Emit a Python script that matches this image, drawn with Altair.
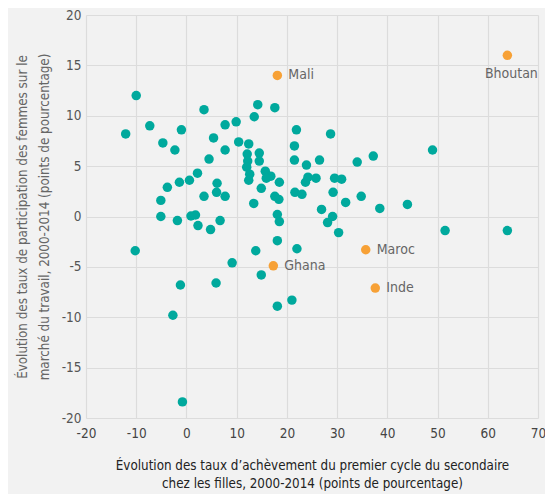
import altair as alt
import pandas as pd

# teal points
xs = [-10.0, -12.1, -7.3, -1.0, -4.7, -2.3, 3.5, 5.4, 7.7, 9.9, 7.7, 4.5, 2.2, 0.6, -1.4, -3.8,
      -5.1, -5.1, -1.8, 0.9, 1.8, 2.3, 4.8, 6.7, 3.5, 6.1, 6.0, 7.7, 12.4, 10.4, 14.2, 13.5,
      17.6, 14.5, 12.1, 12.2, 14.5, 12.0, 12.6, 12.4, 15.7, 16.8, 15.9, 14.9, 13.4, 17.6, 18.4,
      18.5, 18.1, 18.5, 18.1, -10.2, 13.8, 21.9, 28.7, 21.5, 21.5, 23.9, 26.5, 34.0, 37.2, 49.0,
      23.7, 24.2, 25.8, 29.5, 30.9, 21.6, 23.0, 29.2, 34.8, 31.7, 44.0, 38.5, 26.9, 29.1, 28.1,
      30.3, 22.0, 51.5, 63.9, -1.2, -2.7, -0.8, 5.9, 9.1, 14.9, 18.1, 21.0]
ys = [12.0, 8.2, 9.0, 8.6, 7.3, 6.6, 10.6, 7.8, 9.1, 9.4, 6.6, 5.7, 4.3, 3.6, 3.4, 2.9,
      1.6, 0.0, -0.4, 0.05, 0.15, -0.9, -1.3, -0.4, 2.0, 3.3, 2.4, 2.0, 7.2, 7.4, 11.1, 9.9,
      10.8, 6.3, 6.2, 5.5, 5.5, 4.9, 4.2, 3.6, 4.5, 4.0, 3.8, 2.8, 1.3, 2.0, 1.7,
      3.4, 0.2, -0.5, -2.4, -3.4, -3.4, 8.6, 8.2, 7.0, 5.6, 5.1, 5.6, 5.4, 6.0, 6.6,
      3.4, 3.9, 3.8, 3.8, 3.7, 2.4, 2.2, 2.4, 2.0, 1.4, 1.2, 0.8, 0.7, 0.0, -0.6,
      -1.6, -3.2, -1.4, -1.4, -6.8, -9.8, -18.4, -6.6, -4.6, -5.8, -8.9, -8.3]

# highlighted countries
hl_names = ["Mali", "Bhoutan", "Maroc", "Inde", "Ghana"]
hl_x = [18.1, 63.9, 35.7, 37.6, 17.3]
hl_y = [14.0, 16.0, -3.3, -7.1, -4.9]

teal = pd.DataFrame({"x": xs, "y": ys})
hl = pd.DataFrame({"x": hl_x, "y": hl_y, "name": hl_names})

FONT = "DejaVu Sans Condensed, sans-serif"

xscale = alt.Scale(domain=[-20, 70], nice=False, zero=False)
yscale = alt.Scale(domain=[-20, 20], nice=False, zero=False)

xaxis = alt.Axis(
    values=[-20, -10, 0, 10, 20, 30, 40, 50, 60, 70],
    labelExpr="'' + datum.value",
    title=["Évolution des taux d’achèvement du premier cycle du secondaire",
           "chez les filles, 2000-2014 (points de pourcentage)"],
    domain=False, ticks=False, labelPadding=8, titlePadding=19, labelFlush=False,
    labelFontSize=13.5, titleFontSize=13.3, titleFontWeight="normal",
    labelColor="#444", titleColor="#222", labelFont=FONT, titleFont=FONT,
    gridColor="#dcdcdc", gridWidth=1.2, titleLineHeight=18,
)
yaxis = alt.Axis(
    values=[-20, -15, -10, -5, 0, 5, 10, 15, 20],
    labelExpr="'' + datum.value",
    title=["Évolution des taux de participation des femmes sur le",
           "marché du travail, 2000-2014 (points de pourcentage)"],
    domain=False, ticks=False, labelPadding=5, titlePadding=10, labelFlush=False,
    labelFontSize=13.5, titleFontSize=13.3, titleFontWeight="normal",
    labelColor="#555", titleColor="#666", labelFont=FONT, titleFont=FONT,
    gridColor="#dcdcdc", gridWidth=1.2, titleLineHeight=22,
)

base_teal = alt.Chart(teal).mark_circle(size=90, opacity=1, color="#00A99D").encode(
    x=alt.X("x:Q", scale=xscale, axis=xaxis),
    y=alt.Y("y:Q", scale=yscale, axis=yaxis),
)

hl_pts = alt.Chart(hl).mark_circle(size=90, opacity=1, color="#F7A136").encode(
    x=alt.X("x:Q", scale=xscale),
    y=alt.Y("y:Q", scale=yscale),
)

right_labels = alt.Chart(hl).transform_filter(alt.datum.name != "Bhoutan").mark_text(
    align="left", baseline="middle", dx=11, fontSize=14, color="#666", font=FONT
).encode(x="x:Q", y="y:Q", text="name:N")

bhoutan_label = alt.Chart(hl).transform_filter(alt.datum.name == "Bhoutan").mark_text(
    align="center", baseline="middle", dx=4, dy=19, fontSize=14, color="#666", font=FONT
).encode(x="x:Q", y="y:Q", text="name:N")

chart = alt.layer(base_teal, hl_pts, right_labels, bhoutan_label).properties(
    width=452, height=403,
    autosize=alt.AutoSizeParams(type="none"),
    padding={"left": 78, "top": 7, "right": 7, "bottom": 76},
    background="#f2f2f2",
).configure_view(stroke=None, fill="#f2f2f2")

chart.save("out.html", embed_options={"renderer": "svg", "actions": False})
